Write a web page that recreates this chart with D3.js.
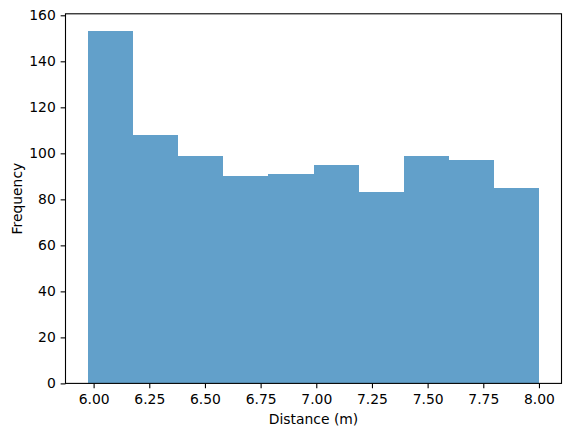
<!DOCTYPE html>
<html>
<head>
<meta charset="utf-8">
<script src="https://cdn.jsdelivr.net/npm/d3@7"></script>
<style>
  body { margin: 0; background: #fff; }
  svg { display: block; }
  text { font-family: "DejaVu Sans", sans-serif; }
</style>
</head>
<body>
<svg id="chart" width="571" height="436"></svg>
<script>
// Histogram data
const binEdges = [5.975, 6.1775, 6.38, 6.5825, 6.785, 6.9875, 7.19, 7.3925, 7.595, 7.7975, 8.0];
const counts = [153, 108, 99, 90, 91, 95, 83, 99, 97, 85];
const xTicks = [6.0, 6.25, 6.5, 6.75, 7.0, 7.25, 7.5, 7.75, 8.0];
const yTicks = [0, 20, 40, 60, 80, 100, 120, 140, 160];
const xLabel = "Distance (m)";
const yLabel = "Frequency";

const bins = counts.map((c, i) => ({ x0: binEdges[i], x1: binEdges[i + 1], count: c }));

const margin = { left: 65.5, top: 13.8 };
const width = 496, height = 369.6;

const svg = d3.select("#chart");
const g = svg.append("g").attr("transform", `translate(${margin.left},${margin.top})`);

const xMin = binEdges[0], xMax = binEdges[binEdges.length - 1];
const xPad = (xMax - xMin) * 0.05;
const x = d3.scaleLinear().domain([xMin - xPad, xMax + xPad]).range([0, width]);
const yMax = d3.max(counts) * 1.05;
const y = d3.scaleLinear().domain([0, yMax]).range([height, 0]);

g.selectAll("rect.bar").data(bins).enter().append("rect")
  .attr("class", "bar")
  .attr("x", d => x(d.x0))
  .attr("width", d => x(d.x1) - x(d.x0))
  .attr("y", d => y(d.count))
  .attr("height", d => y(0) - y(d.count))
  .attr("fill", "#1f77b4")
  .attr("fill-opacity", 0.7)
  .attr("shape-rendering", "crispEdges");

const tickLen = 4.86;
const fs = 13.9;

const xAxis = g.append("g").attr("transform", `translate(0,${height})`)
  .call(d3.axisBottom(x).tickValues(xTicks).tickFormat(d3.format(".2f")).tickSizeInner(tickLen).tickSizeOuter(0).tickPadding(5.8));
const yAxis = g.append("g")
  .call(d3.axisLeft(y).tickValues(yTicks).tickFormat(d3.format("d")).tickSizeInner(tickLen).tickSizeOuter(0).tickPadding(4.86));

[xAxis, yAxis].forEach(ax => {
  ax.select(".domain").remove();
  ax.selectAll(".tick line").attr("stroke", "#000").attr("stroke-width", 1.1);
  ax.selectAll(".tick text").attr("font-size", fs).attr("fill", "#000")
    .attr("font-family", "DejaVu Sans, sans-serif");
});

// spines
g.append("rect").attr("x", 0).attr("y", 0).attr("width", width).attr("height", height)
  .attr("fill", "none").attr("stroke", "#000").attr("stroke-width", 1.1);

svg.append("text").attr("x", margin.left + width / 2).attr("y", 424)
  .attr("text-anchor", "middle").attr("font-size", fs).text(xLabel);

svg.append("text")
  .attr("transform", `translate(21.7,${margin.top + height / 2}) rotate(-90)`)
  .attr("text-anchor", "middle").attr("font-size", fs).text(yLabel);
</script>
</body>
</html>
